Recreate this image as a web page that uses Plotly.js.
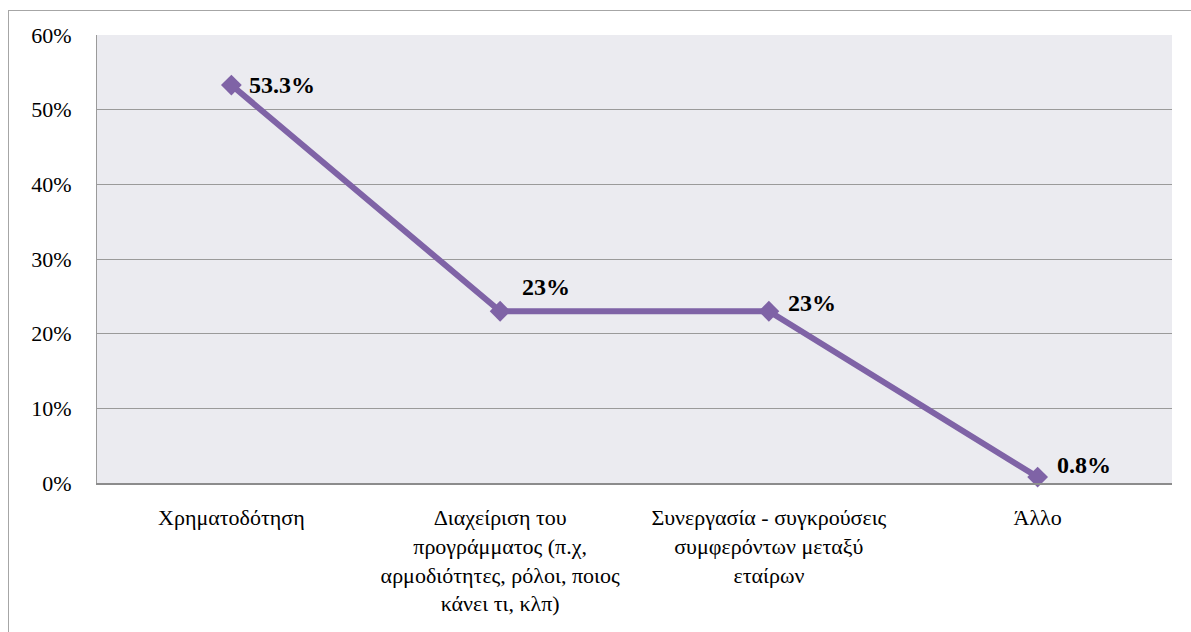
<!DOCTYPE html>
<html>
<head>
<meta charset="utf-8">
<script src="https://cdn.plot.ly/plotly-3.0.1.min.js"></script>
<style>
html,body{margin:0;padding:0;background:#fff;overflow:hidden;}
#frame{position:absolute;left:8px;top:10px;width:1200px;height:640px;border:1px solid #a6a6a6;box-sizing:border-box;}
#chart{position:absolute;left:0;top:0;width:1191px;height:632px;}
</style>
</head>
<body>
<div id="frame"></div>
<div id="chart"></div>
<script>
const categories = [
  'Χρηματοδότηση',
  'Διαχείριση του<br>προγράμματος (π.χ,<br>αρμοδιότητες, ρόλοι, ποιος<br>κάνει τι, κλπ)',
  'Συνεργασία - συγκρούσεις<br>συμφερόντων μεταξύ<br>εταίρων',
  'Άλλο'
];
const values = [53.3, 23, 23, 0.8];
const valueLabels = ['53.3%', '23%', '23%', '0.8%'];
const yTickVals = [0, 10, 20, 30, 40, 50, 60];
const yTickText = ['0%', '10%', '20%', '30%', '40%', '50%', '60%'];

// label placement offsets (style)
const labelShift = [[16, 0], [20, 24], [17, 8], [17, 12]];

const serif = 'Liberation Serif';

const trace = {
  type: 'scatter',
  mode: 'lines+markers',
  x: categories,
  y: values,
  line: {color: '#7f63a6', width: 6},
  marker: {symbol: 'diamond', size: 16, color: '#7f63a6'},
  hoverinfo: 'skip',
  cliponaxis: false
};

const annotations = values.map((v, i) => ({
  x: categories[i], y: v, xref: 'x', yref: 'y',
  text: '<b>' + valueLabels[i] + '</b>',
  showarrow: false, xanchor: 'left', yanchor: 'middle',
  xshift: labelShift[i][0], yshift: labelShift[i][1],
  font: {family: serif, size: 24, color: '#000'}
}));

const layout = {
  width: 1191, height: 632,
  margin: {l: 97, r: 19, t: 35, b: 149},
  paper_bgcolor: 'rgba(0,0,0,0)',
  plot_bgcolor: '#ebebf0',
  showlegend: false,
  font: {family: serif, size: 22, color: '#000'},
  xaxis: {
    type: 'category',
    range: [-0.5, 3.5],
    showgrid: false,
    showline: true, linecolor: '#8c8c8c', linewidth: 2,
    ticks: '', ticklabelstandoff: 14,
    tickfont: {family: serif, size: 22, color: '#000'},
    fixedrange: true
  },
  yaxis: {
    range: [0, 60],
    tickvals: yTickVals, ticktext: yTickText,
    showgrid: true, gridcolor: '#9a9a9a', gridwidth: 1,
    showline: true, linecolor: '#9a9a9a', linewidth: 1,
    zeroline: false,
    ticks: '', ticklabelstandoff: 20,
    tickfont: {family: serif, size: 22, color: '#000'},
    fixedrange: true
  },
  annotations: annotations
};

Plotly.newPlot('chart', [trace], layout, {displayModeBar: false, staticPlot: true});
</script>
</body>
</html>
